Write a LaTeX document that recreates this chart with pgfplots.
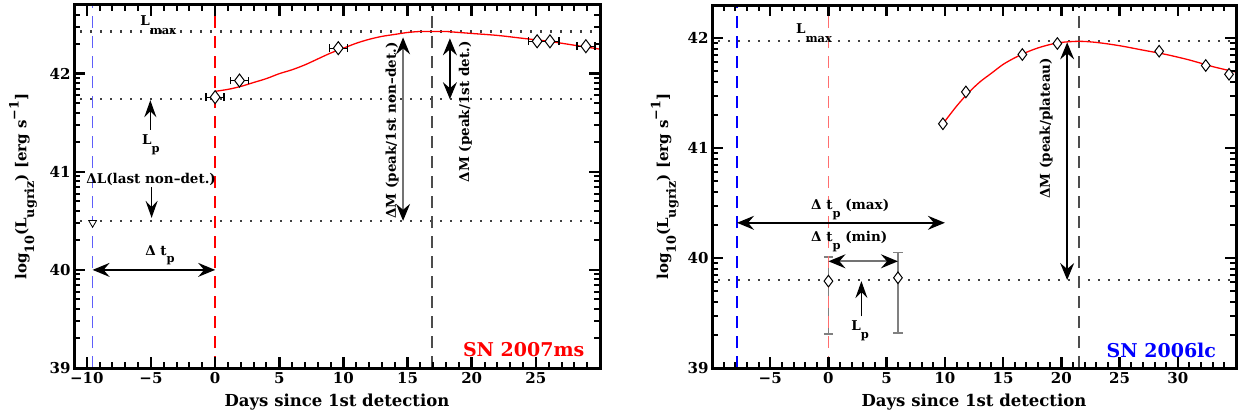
\documentclass[border=0pt]{standalone}
\usepackage{pgfplots}
\pgfplotsset{compat=1.18}
\usetikzlibrary{arrows.meta}
\usepackage{fontspec}
\setmainfont{DejaVu Serif}
\definecolor{lblue}{RGB}{95,95,250}
\definecolor{salmon}{RGB}{255,110,110}
\newcommand\sub[2][1ex]{\raisebox{-#1}{\scalebox{0.85}{#2}}}
\newcommand\sups[2][1ex]{\raisebox{#1}{\scalebox{0.85}{#2}}}
\newcommand\ann{\bfseries\fontsize{13.5}{16}\selectfont}
\tikzset{
  dbl/.style={line width=1.4pt, {Stealth[length=17pt,width=14pt,inset=6pt,color=black]}-{Stealth[length=17pt,width=14pt,inset=6pt,color=black]}},
  sgl/.style={line width=1.4pt, -{Stealth[length=17pt,width=12pt,inset=6pt]}},
  dotl/.style={line width=2.2pt, dash pattern=on 2pt off 8pt, black!75},
  dashl/.style={line width=1.6pt, dash pattern=on 12pt off 8pt},
  ebl/.style={black, line width=1.3pt},
  ebr/.style={black!50, line width=1.8pt},
}
\pgfplotsset{
  idl/.style={
    scale only axis, anchor=south west, axis on top,
    axis line style={line width=3pt},
    tick align=inside,
    major tick length=11pt, minor tick length=6pt,
    every major tick/.append style={line width=2.5pt, black},
    every minor tick/.append style={line width=2pt, black},
    ymin=39, ytick={39,40,41,42},
    tick label style={font=\bfseries\fontsize{15}{17}\selectfont},
    /pgf/number format/assume math mode=true,
    xticklabel style={yshift=-1pt},
    xlabel={Days since 1st detection},
    every axis x label/.style={at={(axis description cs:0.5,-0.094)}, anchor=center, font=\bfseries\fontsize{16.5}{19}\selectfont},
    ylabel={log\sub{10}(L\sub{ugriz}) [erg s\sups{−1}]},
  }
}
\begin{document}
\begin{tikzpicture}
\useasboundingbox (0,0) rectangle (1239pt,416pt);
% ---------------- left panel ----------------
\begin{axis}[idl, at={(74pt,48pt)}, width=526pt, height=363pt,
  xmin=-11, xmax=30, ymax=42.7,
  xtick={-10,-5,0,5,10,15,20,25}, xticklabels={−10,−5,0,5,10,15,20,25},
  minor xtick={-11,-10,...,30},
  minor ytick={39.30103,39.47712,39.60206,39.69897,39.77815,39.84510,39.90309,39.95424,
               40.30103,40.47712,40.60206,40.69897,40.77815,40.84510,40.90309,40.95424,
               41.30103,41.47712,41.60206,41.69897,41.77815,41.84510,41.90309,41.95424,
               42.30103,42.47712,42.60206},
  every axis y label/.style={at={(axis description cs:-0.097,0.5)}, rotate=90, anchor=center, font=\bfseries\fontsize{15}{18}\selectfont},
]
\addplot[dotl] coordinates {(-10.5,42.43) (30,42.43)};
\addplot[dotl] coordinates {(-10.5,41.74) (30,41.74)};
\addplot[dotl] coordinates {(-10.5,40.50) (30,40.50)};
\addplot[dashl, lblue] coordinates {(-9.55,39) (-9.55,42.7)};
\addplot[dashl, red] coordinates {(0,39) (0,42.7)};
\addplot[dashl, black!70] coordinates {(16.9,39) (16.9,42.7)};
\addplot[red, line width=1.3pt, smooth] coordinates {
 (0,41.82) (1,41.84) (2,41.87) (3,41.91) (4,41.95) (5,42.00) (6,42.04) (7,42.09)
 (8,42.15) (9,42.21) (10,42.26) (11,42.31) (12,42.35) (13,42.38) (14,42.40) (15,42.42)
 (16,42.43) (17,42.43) (18,42.43) (19,42.42) (20,42.41) (22,42.39) (24,42.36) (26,42.33)
 (28,42.29) (30,42.25)};
% horizontal error bars (x +- 0.7 d) with caps
\addplot[ebl] coordinates {(-0.7,41.76) (0.7,41.76)};
\addplot[ebl] coordinates {(-0.7,41.72) (-0.7,41.80)};
\addplot[ebl] coordinates {(0.7,41.72) (0.7,41.80)};
\addplot[ebl] coordinates {(1.2,41.93) (2.6,41.93)};
\addplot[ebl] coordinates {(1.2,41.89) (1.2,41.97)};
\addplot[ebl] coordinates {(2.6,41.89) (2.6,41.97)};
\addplot[ebl] coordinates {(8.9,42.26) (10.3,42.26)};
\addplot[ebl] coordinates {(8.9,42.22) (8.9,42.30)};
\addplot[ebl] coordinates {(10.3,42.22) (10.3,42.30)};
\addplot[ebl] coordinates {(24.4,42.33) (26.8,42.33)};
\addplot[ebl] coordinates {(24.4,42.29) (24.4,42.37)};
\addplot[ebl] coordinates {(26.8,42.29) (26.8,42.37)};
\addplot[ebl] coordinates {(28.2,42.28) (29.6,42.28)};
\addplot[ebl] coordinates {(28.2,42.24) (28.2,42.32)};
\addplot[ebl] coordinates {(29.6,42.24) (29.6,42.32)};
\addplot[only marks, mark=diamond*, mark size=6.5pt,
  mark options={fill=white, draw=black, line width=1pt}]
 coordinates {(0,41.76) (1.9,41.93) (9.6,42.26) (25.1,42.33) (26.1,42.33) (28.9,42.28)};
\addplot[only marks, mark=triangle*, mark size=4.5pt,
  mark options={rotate=180, fill=white, draw=black, line width=0.8pt}]
 coordinates {(-9.55,40.48)};
% annotations
\node[anchor=base west, font=\ann, inner sep=0pt] at (axis cs:-5.85,42.49) {L\sub[1.3ex]{max}};
\draw[sgl] (axis cs:-5.05,41.43) -- (axis cs:-5.05,41.73);
\node[anchor=base west, font=\ann, inner sep=0pt] at (axis cs:-5.7,41.28) {L\sub[1.1ex]{p}};
\node[anchor=base west, font=\ann, inner sep=0pt] at (axis cs:-10.05,40.88) {ΔL(last non–det.)};
\draw[sgl] (axis cs:-4.95,40.84) -- (axis cs:-4.95,40.53);
\node[anchor=base west, font=\ann, inner sep=0pt] at (axis cs:-5.46,40.15) {Δ t\sub[1.1ex]{p}};
\draw[dbl] (axis cs:-9.55,40.0) -- (axis cs:0,40.0);
\draw[dbl, black!55] (axis cs:14.65,42.37) -- (axis cs:14.65,40.50);
\node[rotate=90, font=\ann] at (axis cs:13.8,41.42) {ΔM (peak/1st non–det.)};
\draw[dbl] (axis cs:18.3,42.36) -- (axis cs:18.3,41.74);
\node[rotate=90, font=\ann] at (axis cs:19.5,41.61) {ΔM (peak/1st det.)};
\node[anchor=base east, red, font=\bfseries\fontsize{19}{22}\selectfont, inner sep=0pt] at (axis cs:28.8,39.12) {SN 2007ms};
\end{axis}
% ---------------- right panel ----------------
\begin{axis}[idl, at={(712pt,48pt)}, width=524pt, height=363pt,
  xmin=-10, xmax=35, ymax=42.3,
  xtick={-5,0,5,10,15,20,25,30}, xticklabels={−5,0,5,10,15,20,25,30},
  minor xtick={-10,-9,...,35},
  minor ytick={39.30103,39.47712,39.60206,39.69897,39.77815,39.84510,39.90309,39.95424,
               40.30103,40.47712,40.60206,40.69897,40.77815,40.84510,40.90309,40.95424,
               41.30103,41.47712,41.60206,41.69897,41.77815,41.84510,41.90309,41.95424},
  every axis y label/.style={at={(axis description cs:-0.09,0.5)}, rotate=90, anchor=center, font=\bfseries\fontsize{15}{18}\selectfont},
]
\addplot[dotl] coordinates {(-9.5,41.97) (35,41.97)};
\addplot[dotl] coordinates {(-9.5,39.80) (35,39.80)};
% vertical error bars with caps
\addplot[ebr] coordinates {(0,39.31) (0,40.01)};
\addplot[ebr] coordinates {(-0.4,39.31) (0.4,39.31)};
\addplot[ebr] coordinates {(-0.4,40.01) (0.4,40.01)};
\addplot[ebr] coordinates {(5.97,39.32) (5.97,40.05)};
\addplot[ebr] coordinates {(5.57,39.32) (6.37,39.32)};
\addplot[ebr] coordinates {(5.57,40.05) (6.37,40.05)};
\addplot[dashl, blue, line width=1.3pt] coordinates {(-7.85,39) (-7.85,42.3)};
\addplot[dashl, salmon, line width=1.8pt] coordinates {(0,39) (0,42.3)};
\addplot[dashl, black!70] coordinates {(21.5,39) (21.5,42.3)};
\addplot[red, line width=1.3pt, smooth] coordinates {
 (9.83,41.22) (11,41.38) (12,41.50) (13,41.60) (14,41.68) (15,41.76) (16,41.82)
 (17,41.87) (18,41.91) (19,41.94) (20,41.96) (21.5,41.97) (23,41.96) (25,41.93)
 (27,41.89) (29,41.85) (31,41.80) (33,41.74) (35,41.69)};
\addplot[only marks, mark=diamond*, mark size=5.8pt,
  mark options={fill=white, draw=black, line width=1pt}]
 coordinates {(0,39.79) (5.97,39.82) (9.83,41.22) (11.8,41.51) (16.65,41.85)
   (19.66,41.95) (28.4,41.88) (32.4,41.75) (34.4,41.67)};
% annotations
\node[anchor=base west, font=\ann, inner sep=0pt] at (axis cs:-2.8,42.04) {L\sub[1.3ex]{max}};
\node[anchor=base west, font=\ann, inner sep=0pt] at (axis cs:-1.5,40.44) {Δ t\sub[1.1ex]{p} (max)};
\draw[dbl] (axis cs:-7.85,40.32) -- (axis cs:10.0,40.32);
\node[anchor=base west, font=\ann, inner sep=0pt] at (axis cs:-1.5,40.15) {Δ t\sub[1.1ex]{p} (min)};
\draw[dbl, black!55, line width=1.8pt] (axis cs:0,39.97) -- (axis cs:5.97,39.97);
\draw[sgl] (axis cs:2.83,39.47) -- (axis cs:2.83,39.79);
\node[anchor=base west, font=\ann, inner sep=0pt] at (axis cs:1.95,39.34) {L\sub[1.1ex]{p}};
\draw[dbl] (axis cs:20.5,41.96) -- (axis cs:20.5,39.80);
\node[rotate=90, font=\ann] at (axis cs:18.7,41.18) {ΔM (peak/plateau)};
\node[anchor=base east, blue, font=\bfseries\fontsize{19}{22}\selectfont, inner sep=0pt] at (axis cs:33.3,39.1) {SN 2006lc};
\end{axis}
\end{tikzpicture}
\end{document}
